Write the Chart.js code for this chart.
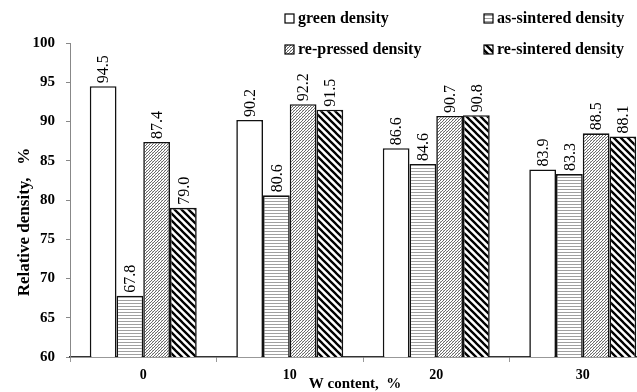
<!DOCTYPE html>
<html>
<head>
<meta charset="utf-8">
<script src="https://cdn.jsdelivr.net/npm/chart.js@4"></script>
<style>
  html, body { margin: 0; padding: 0; background: #fff; overflow: hidden; }
</style>
</head>
<body>
<canvas id="density-chart" width="660" height="392"></canvas>
<script>
// W content groups and the four density series (%)
const wContent = ['0', '10', '20', '30'];
const greenDensity = [94.5, 90.2, 86.6, 83.9];
const asSintered = [67.8, 80.6, 84.6, 83.3];
const rePressed = [87.4, 92.2, 90.7, 88.5];
const reSintered = [79.0, 91.5, 90.8, 88.1];
const yTicks = { min: 60, max: 100, step: 5 };

const serif = '"Liberation Serif", "Times New Roman", serif';

// Small tiles used as bar fills
function makePattern(w, h, draw) {
    const c = document.createElement('canvas');
    c.width = w;
    c.height = h;
    const g = c.getContext('2d');
    g.fillStyle = '#fff';
    g.fillRect(0, 0, w, h);
    draw(g, w, h);
    return c.getContext('2d').createPattern(c, 'repeat');
}

// grey horizontal lines
const hLines = makePattern(4, 3, (g, w) => {
    g.fillStyle = '#a0a0a0';
    g.fillRect(0, 0, w, 1);
});

// fine grey "/" hatching
const fineHatch = makePattern(3, 3, (g) => {
    g.fillStyle = '#6a6a6a';
    g.fillRect(2, 0, 1, 1);
    g.fillRect(1, 1, 1, 1);
    g.fillRect(0, 2, 1, 1);
    g.fillStyle = '#c8c8c8';
    g.fillRect(2, 2, 1, 1);
});

// bold "\" stripes
const boldStripes = makePattern(7, 7, (g, w, h) => {
    g.strokeStyle = '#000';
    g.lineWidth = 2.3;
    g.beginPath();
    g.moveTo(-1, -1); g.lineTo(w + 1, h + 1);
    g.moveTo(-w - 1, -1); g.lineTo(1, h + 1);
    g.moveTo(w - 1, -1); g.lineTo(2 * w + 1, h + 1);
    g.stroke();
});

const seriesStyle = [
    { label: 'green density', data: greenDensity, fill: '#fff' },
    { label: 'as-sintered density', data: asSintered, fill: hLines },
    { label: 're-pressed density', data: rePressed, fill: fineHatch },
    { label: 're-sintered density', data: reSintered, fill: boldStripes }
];

// rotated value above every bar
const valueLabels = {
    id: 'valueLabels',
    afterDatasetsDraw(chart) {
        const ctx = chart.ctx;
        ctx.save();
        ctx.fillStyle = '#000';
        ctx.font = '16px ' + serif;
        ctx.textAlign = 'left';
        ctx.textBaseline = 'middle';
        chart.data.datasets.forEach((ds, di) => {
            chart.getDatasetMeta(di).data.forEach((bar, i) => {
                ctx.save();
                ctx.translate(bar.x + 1, bar.y - 3);
                ctx.rotate(-Math.PI / 2);
                ctx.fillText(ds.data[i].toFixed(1), 0, 0);
                ctx.restore();
            });
        });
        ctx.restore();
    }
};

// two-column legend at the top plus the axis captions
const gridLegend = {
    id: 'gridLegend',
    afterDraw(chart) {
        const ctx = chart.ctx;
        const cols = [285, 484];
        const rows = [19, 50];
        ctx.save();
        ctx.font = 'bold 16px ' + serif;
        ctx.textBaseline = 'middle';
        ctx.textAlign = 'left';
        chart.data.datasets.forEach((ds, i) => {
            const x = cols[i % 2];
            const y = rows[Math.floor(i / 2)];
            ctx.fillStyle = ds.backgroundColor;
            ctx.fillRect(x, y - 5, 9, 9);
            ctx.strokeStyle = '#000';
            ctx.lineWidth = 1.2;
            ctx.strokeRect(x, y - 5, 9, 9);
            ctx.fillStyle = '#000';
            ctx.fillText(ds.label, x + 13, y);
        });

        ctx.textAlign = 'center';
        ctx.font = 'bold 15px ' + serif;
        ctx.fillText('W content,  %', 355, 384);

        ctx.save();
        ctx.translate(25, 222);
        ctx.rotate(-Math.PI / 2);
        ctx.font = 'bold 17px ' + serif;
        ctx.fillText('Relative density,   %', 0, 0);
        ctx.restore();
        ctx.restore();
    }
};

const ctx = document.getElementById('density-chart').getContext('2d');
const densityChart = new Chart(ctx, {
    type: 'bar',
    data: {
        labels: wContent,
        datasets: seriesStyle.map(s => ({
            label: s.label,
            data: s.data,
            backgroundColor: s.fill,
            borderColor: '#111',
            borderWidth: 1.6,
            borderSkipped: 'bottom',
            categoryPercentage: 0.73,
            barPercentage: 1.0
        }))
    },
    options: {
        responsive: false,
        animation: false,
        layout: { padding: { top: 43, left: 0, right: 4, bottom: 0 } },
        plugins: {
            legend: { display: false },
            tooltip: { enabled: false }
        },
        scales: {
            x: {
                afterFit: s => { s.height = 35; },
                grid: { drawOnChartArea: false, tickLength: 5, color: '#999' },
                border: { color: '#333', width: 1.5 },
                ticks: {
                    color: '#000',
                    padding: 5,
                    font: { family: serif, size: 14, weight: 'bold' }
                }
            },
            y: {
                min: yTicks.min,
                max: yTicks.max,
                afterFit: s => { s.width = 70; },
                grid: { drawOnChartArea: false, tickLength: 4, color: '#888' },
                border: { color: '#888', width: 1 },
                ticks: {
                    stepSize: yTicks.step,
                    color: '#000',
                    padding: 11,
                    font: { family: serif, size: 15, weight: 'bold' }
                }
            }
        }
    },
    plugins: [valueLabels, gridLegend]
});
</script>
</body>
</html>
